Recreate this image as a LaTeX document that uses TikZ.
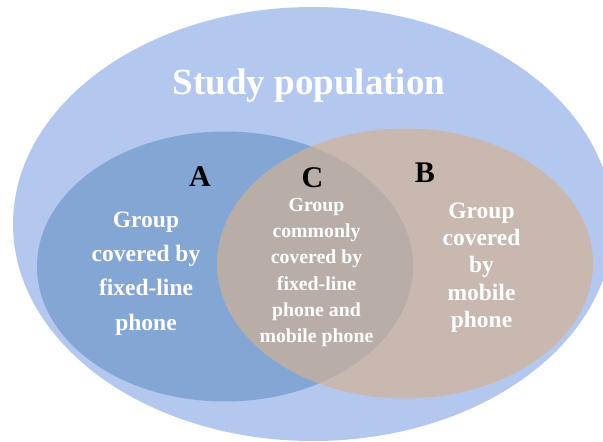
\documentclass[tikz,border=0pt]{standalone}
\usepackage{fontspec}
\setmainfont{Liberation Serif}
\usetikzlibrary{shapes.geometric}
\definecolor{popblue}{RGB}{180,200,239}
\definecolor{fixblue}{RGB}{132,166,213}
\definecolor{mobtan}{RGB}{210,177,149}
\begin{document}
\begin{tikzpicture}[x=1pt,y=-1pt,
  setshape/.style={ellipse, inner sep=0pt, draw=none},
  letter/.style={anchor=base, inner sep=0pt, text=black, font=\fontsize{30}{32}\selectfont\bfseries},
  grouptext/.style={anchor=base, inner sep=0pt, text=white, align=center}]
\useasboundingbox (0,0) rectangle (603,442);
\clip (0,0) rectangle (603,442);
\node[setshape, fill=popblue, minimum width=600pt, minimum height=434pt] (pop) at (313,224) {};
\node[setshape, fill=fixblue, minimum width=376pt, minimum height=270pt] (setA) at (225,266.5) {};
\node[setshape, fill=mobtan, fill opacity=0.69, minimum width=376pt, minimum height=270pt] (setB) at (405,263.5) {};
\node[anchor=base, inner sep=0pt, text=white, font=\fontsize{37}{40}\selectfont\bfseries] (title) at (309,94.5) {Study population};
\node[letter] (labA) at (200,186) {A};
\node[letter] (labB) at (425,182) {B};
\node[letter] (labC) at (312.5,187) {C};
% base anchor of a multi-line node = baseline of its last line
\node[grouptext, font=\fontsize{23.5}{34.3}\selectfont\bfseries] (txtA) at (146,330.2) {Group\\covered by\\fixed-line\\phone};
\node[grouptext, font=\fontsize{19.8}{26.1}\selectfont\bfseries] (txtC) at (316.5,342.2) {Group\\commonly\\covered by\\fixed-line\\phone and\\mobile phone};
\node[grouptext, font=\fontsize{23.5}{27.3}\selectfont\bfseries] (txtB) at (481.5,327.5) {Group\\covered\\by\\mobile\\phone};
\end{tikzpicture}
\end{document}
